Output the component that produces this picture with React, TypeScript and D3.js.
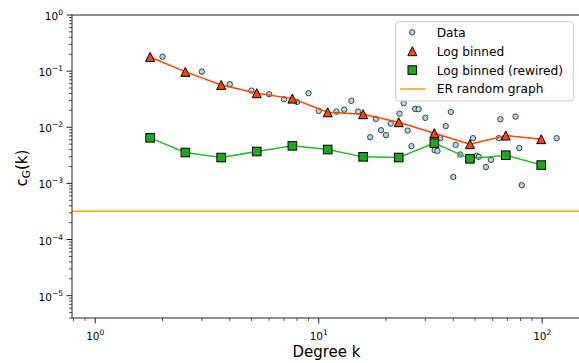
import React from "react";
import * as d3 from "d3";

// ---- Data ----
const dataK = [2, 3, 4, 5, 6, 7, 8, 9, 10, 12, 13, 14, 15, 17, 18, 19, 20, 21, 23, 24, 25, 26, 27, 28, 30, 33, 34, 35, 37, 39, 40, 41, 43, 49, 51, 52, 56, 59, 64, 65, 76, 79, 81, 116];
const dataCG = [0.181, 0.098, 0.0585, 0.045, 0.0388, 0.0316, 0.0283, 0.0404, 0.0196, 0.019, 0.0206, 0.0295, 0.019, 0.00667, 0.0141, 0.00888, 0.00724, 0.0116, 0.0175, 0.0268, 0.00873, 0.00461, 0.0212, 0.021, 0.0147, 0.0039, 0.0038, 0.0064, 0.0105, 0.0188, 0.0013, 0.00486, 0.00327, 0.0064, 0.0031, 0.00297, 0.00195, 0.00263, 0.0064, 0.0139, 0.0155, 0.00425, 0.00093, 0.0064];

const binK = [1.76, 2.53, 3.66, 5.28, 7.62, 10.97, 15.8, 22.8, 32.9, 47.5, 68.7, 99];
const binCG = [0.179, 0.097, 0.0568, 0.0404, 0.0324, 0.0185, 0.0171, 0.0123, 0.00785, 0.005, 0.00713, 0.00614];
const rewiredCG = [0.00648, 0.00355, 0.00289, 0.0037, 0.00467, 0.00401, 0.00297, 0.00289, 0.00521, 0.00274, 0.00318, 0.00212];
const erCG = 3.2e-4;

const xMajor = [1, 10, 100];
const xMajorExp = ["0", "1", "2"];
const yMajor = [1, 1e-1, 1e-2, 1e-3, 1e-4, 1e-5];
const yMajorExp = ["0", "\u22121", "\u22122", "\u22123", "\u22124", "\u22125"];
const legendLabels = ["Data", "Log binned", "Log binned (rewired)", "ER random graph"];

// ---- Layout ----
const W = 579, H = 363;
const L = 72, R = 580, T = 15, B = 318;
const FONT = "DejaVu Sans, sans-serif";

const x = d3.scaleLog().domain([0.787, 147.6]).range([L, R]);
const y = d3.scaleLog().domain([4e-6, 1]).range([B, T]);

function minorTicks(lo: number, hi: number, decades: number[]) {
  const out: number[] = [];
  decades.forEach((d) => {
    for (let m = 2; m <= 9; m++) {
      const v = m * d;
      if (v >= lo && v <= hi) out.push(v);
    }
  });
  return out;
}
const xMinor = minorTicks(0.787, 147.6, [0.1, 1, 10, 100]);
const yMinor = minorTicks(4e-6, 1, [1e-6, 1e-5, 1e-4, 1e-3, 1e-2, 1e-1]);

const ORANGE_RED = "#ff4500";
const GREEN_FILL = "#1ea81e";
const GREEN_LINE = "#2db52d";
const LIGHTBLUE = "#add8e6";
const ER_COLOR = "#ffa500";
const SPINE = "#222";

function triPath(cx: number, cy: number, s: number) {
  const h = s / 2;
  return `M${cx},${cy - h}L${cx + h},${cy + h}L${cx - h},${cy + h}Z`;
}

export default function App() {
  const binLine = d3.line<number>().x((_, i) => x(binK[i])).y((v) => y(v));
  const sq = 8.6;
  const triS = 9;

  const legX = 395.7, legY = 21.7, legW = 177.6, legH = 79.3;
  const rowY = [32.3, 51.2, 70.1, 89];
  const mX = 412.3, tX = 436.7;

  return (
    <svg width={W} height={H} style={{ position: "fixed", left: 0, top: 0, background: "#fff" }} fontFamily={FONT}>
      <rect x={0} y={0} width={W} height={H} fill="#fff" />
      <defs>
        <clipPath id="plotClip">
          <rect x={L} y={T} width={R - L} height={B - T} />
        </clipPath>
      </defs>

      <g clipPath="url(#plotClip)">
        {/* Data points */}
        {dataK.map((k, i) => (
          <circle key={"d" + i} cx={x(k)} cy={y(dataCG[i])} r={2.7} fill={LIGHTBLUE} stroke="#1a1a1a" strokeWidth={0.8} />
        ))}
        {/* Log binned */}
        <path d={binLine(binCG) || ""} fill="none" stroke={ORANGE_RED} strokeWidth={1.5} />
        {binCG.map((v, i) => (
          <path key={"t" + i} d={triPath(x(binK[i]), y(v), triS)} fill={ORANGE_RED} stroke="#000" strokeWidth={1} strokeLinejoin="miter" />
        ))}
        {/* Rewired */}
        <path d={binLine(rewiredCG) || ""} fill="none" stroke={GREEN_LINE} strokeWidth={1.5} />
        {rewiredCG.map((v, i) => (
          <rect key={"s" + i} x={x(binK[i]) - sq / 2} y={y(v) - sq / 2} width={sq} height={sq} fill={GREEN_FILL} stroke="#000" strokeWidth={1} />
        ))}
        {/* ER */}
        <line x1={L} x2={R} y1={y(erCG)} y2={y(erCG)} stroke={ER_COLOR} strokeWidth={1.5} />
      </g>

      {/* Spines */}
      <rect x={L} y={T} width={R - L} height={B - T} fill="none" stroke={SPINE} strokeWidth={1} />

      {/* X ticks */}
      {xMinor.map((v, i) => (
        <line key={"xm" + i} x1={x(v)} x2={x(v)} y1={B} y2={B + 3} stroke={SPINE} strokeWidth={0.8} />
      ))}
      {xMajor.map((v, i) => (
        <g key={"xM" + i}>
          <line x1={x(v)} x2={x(v)} y1={B} y2={B + 5.5} stroke={SPINE} strokeWidth={1} />
          <text x={x(v)} y={339.5} textAnchor="middle" fontSize={10.5} fill="#000">
            <tspan>10</tspan>
            <tspan dy={-5} fontSize={7.5}>{xMajorExp[i]}</tspan>
          </text>
        </g>
      ))}

      {/* Y ticks */}
      {yMinor.map((v, i) => (
        <line key={"ym" + i} x1={L - 3} x2={L} y1={y(v)} y2={y(v)} stroke={SPINE} strokeWidth={0.8} />
      ))}
      {yMajor.map((v, i) => (
        <g key={"yM" + i}>
          <line x1={L - 5.5} x2={L} y1={y(v)} y2={y(v)} stroke={SPINE} strokeWidth={1} />
          <text x={63} y={y(v) + 5} textAnchor="end" fontSize={10.5} fill="#000">
            <tspan>10</tspan>
            <tspan dy={-5} fontSize={7.5}>{yMajorExp[i]}</tspan>
          </text>
        </g>
      ))}

      {/* Axis labels */}
      <text x={(L + 579) / 2 + 1} y={357} textAnchor="middle" fontSize={15} fill="#000">Degree k</text>
      <text transform={`translate(27,168) rotate(-90)`} textAnchor="middle" fontSize={15} fill="#000">
        <tspan>c</tspan>
        <tspan dy={3} fontSize={10.5}>G</tspan>
        <tspan dy={-3}>(k)</tspan>
      </text>

      {/* Legend */}
      <rect x={legX} y={legY} width={legW} height={legH} rx={3} ry={3} fill="#fff" fillOpacity={0.8} stroke="#cccccc" strokeWidth={1} />
      <circle cx={mX} cy={rowY[0]} r={2.7} fill={LIGHTBLUE} stroke="#1a1a1a" strokeWidth={0.8} />
      <path d={triPath(mX, rowY[1], triS)} fill={ORANGE_RED} stroke="#000" strokeWidth={1} />
      <rect x={mX - sq / 2} y={rowY[2] - sq / 2} width={sq} height={sq} fill={GREEN_FILL} stroke="#000" strokeWidth={1} />
      <line x1={400} x2={425.7} y1={rowY[3]} y2={rowY[3]} stroke={ER_COLOR} strokeWidth={1.5} />
      {legendLabels.map((s, i) => (
        <text key={"l" + i} x={tX} y={rowY[i] + 4.4} fontSize={12.2} fill="#000">{s}</text>
      ))}
    </svg>
  );
}
